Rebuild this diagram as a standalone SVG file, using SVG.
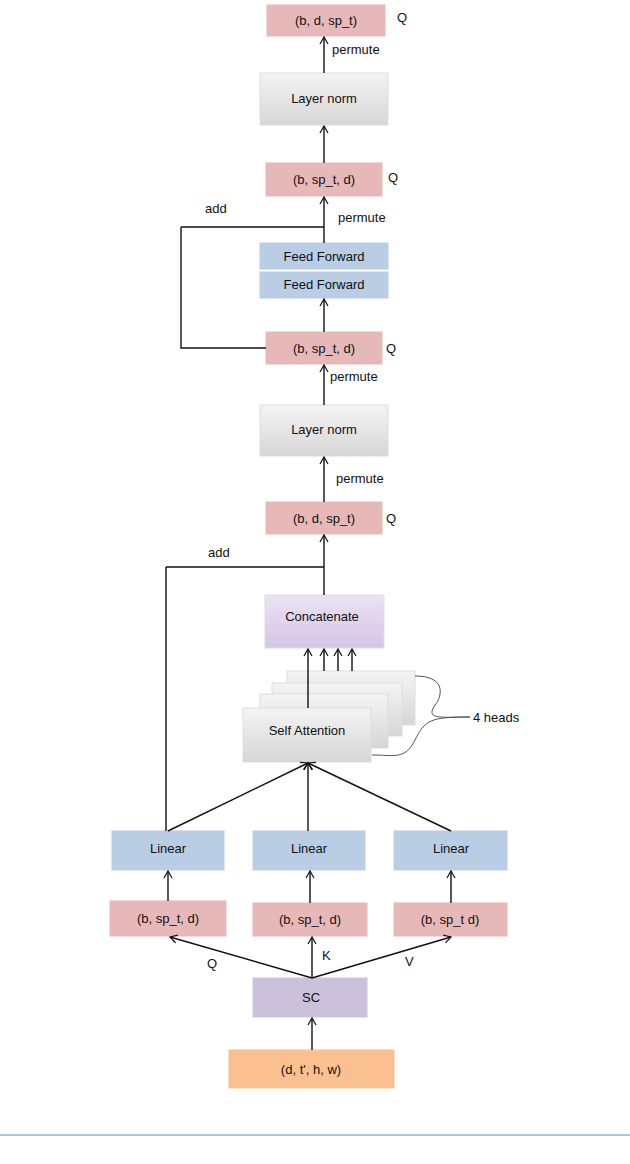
<svg xmlns="http://www.w3.org/2000/svg" width="630" height="1164" viewBox="0 0 630 1164">
<style>
text{font-family:"Liberation Sans",Arial,sans-serif;font-size:13px;fill:#111}
.c{text-anchor:middle}
.pink{fill:#e6b9b8;stroke:#e6b9b8}
.gray{fill:url(#g);stroke:#ddd}
.blue{fill:#b9cde5;stroke:#b9cde5}
.line{stroke:#111;stroke-width:1.4;fill:none}
</style>
<defs>
<linearGradient id="g" x1="0" y1="0" x2="0" y2="1"><stop offset="0" stop-color="#f4f4f4"/><stop offset="1" stop-color="#d6d6d6"/></linearGradient>
<linearGradient id="p" x1="0" y1="0" x2="0" y2="1"><stop offset="0" stop-color="#ebe3f4"/><stop offset="1" stop-color="#d5c4e8"/></linearGradient>
<marker id="a" markerWidth="10" markerHeight="10" refX="8" refY="5" orient="auto" markerUnits="userSpaceOnUse"><path d="M1,1 L8,5 L1,9" fill="none" stroke="#111" stroke-width="1.2"/></marker>
</defs>
<rect width="630" height="1164" fill="#fff"/>
<g id="n1"><rect class="pink" x="267" y="5" width="118" height="31"/><text class="c" x="326" y="25">(b, d, sp_t)</text></g>
<g id="n2"><rect class="gray" x="260" y="73" width="128" height="52"/><text class="c" x="324" y="103">Layer norm</text></g>
<g id="n3"><rect class="pink" x="266" y="163" width="116" height="33"/><text class="c" x="324" y="184">(b, sp_t, d)</text></g>
<g id="n4"><rect class="blue" x="260" y="243" width="128" height="26"/><text class="c" x="324" y="261">Feed Forward</text></g>
<g id="n5"><rect class="blue" x="260" y="272" width="128" height="26"/><text class="c" x="324" y="289">Feed Forward</text></g>
<g id="n6"><rect class="pink" x="266" y="332" width="116" height="32"/><text class="c" x="324" y="353">(b, sp_t, d)</text></g>
<g id="n7"><rect class="gray" x="260" y="405" width="128" height="51"/><text class="c" x="324" y="434">Layer norm</text></g>
<g id="n8"><rect class="pink" x="266" y="502" width="116" height="32"/><text class="c" x="324" y="523">(b, d, sp_t)</text></g>
<g id="n9"><rect fill="url(#p)" stroke="#ddd" x="265" y="595" width="119" height="53"/><text class="c" x="322" y="621">Concatenate</text></g>
<g id="n10">
<rect class="gray" x="287" y="671" width="128" height="54"/>
<rect class="gray" x="272" y="683" width="130" height="53"/>
<rect class="gray" x="260" y="694" width="128" height="54"/>
<rect class="gray" x="243" y="708" width="128" height="54"/>
<text class="c" x="307" y="735">Self Attention</text>
<path d="M415,676 C450,676 440,700 435,705 C425,720 440,717 470,717 M470,717 C430,717 425,720 415,740 C405,760 395,755 372,755" fill="none" stroke="#555" stroke-width="1"/>
<text x="473" y="722">4 heads</text>
</g>
<g id="n11"><rect class="blue" x="112" y="831" width="112" height="39"/><text class="c" x="168" y="853">Linear</text></g>
<g id="n12"><rect class="blue" x="253" y="831" width="112" height="39"/><text class="c" x="309" y="853">Linear</text></g>
<g id="n13"><rect class="blue" x="394" y="831" width="113" height="39"/><text class="c" x="451" y="853">Linear</text></g>
<g id="n14"><rect class="pink" x="110" y="901" width="116" height="35"/><text class="c" x="168" y="923">(b, sp_t,  d)</text></g>
<g id="n15"><rect class="pink" x="253" y="903" width="114" height="33"/><text class="c" x="310" y="924">(b, sp_t,  d)</text></g>
<g id="n16"><rect class="pink" x="394" y="903" width="113" height="33"/><text class="c" x="450" y="924">(b, sp_t  d)</text></g>
<g id="n17"><rect fill="#ccc1da" stroke="#ccc1da" x="253" y="978" width="114" height="39"/><text class="c" x="311" y="1002">SC</text></g>
<g id="n18"><rect fill="#fac090" stroke="#fac090" x="229" y="1050" width="165" height="38"/><text class="c" x="311" y="1074">(d, t',  h, w)</text></g>
<g id="edges">
<path class="line" marker-end="url(#a)" d="M324,73 V37"/>
<path class="line" marker-end="url(#a)" d="M324,163 V126"/>
<path class="line" marker-end="url(#a)" d="M324,243 V197"/>
<path class="line" marker-end="url(#a)" d="M324,332 V299"/>
<path class="line" marker-end="url(#a)" d="M324,405 V365"/>
<path class="line" marker-end="url(#a)" d="M324,502 V457"/>
<path class="line" marker-end="url(#a)" d="M324,595 V535"/>
<path class="line" d="M181,227 H324 M181,227 V348 H266"/>
<path class="line" d="M166,567 H324 M166,567 V831"/>
<path class="line" marker-end="url(#a)" d="M308,708 V649"/>
<path class="line" marker-end="url(#a)" d="M324,671 V649"/>
<path class="line" marker-end="url(#a)" d="M338,671 V649"/>
<path class="line" marker-end="url(#a)" d="M352,671 V649"/>
<path class="line" marker-end="url(#a)" d="M168,831 L308,763"/>
<path class="line" marker-end="url(#a)" d="M308,831 V763"/>
<path class="line" marker-end="url(#a)" d="M451,831 L308,763"/>
<path class="line" marker-end="url(#a)" d="M168,901 V871"/>
<path class="line" marker-end="url(#a)" d="M310,903 V871"/>
<path class="line" marker-end="url(#a)" d="M451,903 V871"/>
<path class="line" marker-end="url(#a)" d="M312,978 L170,937"/>
<path class="line" marker-end="url(#a)" d="M312,978 V937"/>
<path class="line" marker-end="url(#a)" d="M312,978 L451,937"/>
<path class="line" marker-end="url(#a)" d="M312,1050 V1018"/>
<text x="397" y="22">Q</text><text x="332" y="54">permute</text>
<text x="388" y="182">Q</text><text x="338" y="222">permute</text><text x="205" y="213">add</text>
<text x="386" y="353">Q</text><text x="330" y="381">permute</text>
<text x="336" y="483">permute</text><text x="386" y="523">Q</text><text x="208" y="557">add</text>
<text x="207" y="968">Q</text><text x="322" y="960">K</text><text x="405" y="966">V</text>
</g>
<line x1="0" y1="1135" x2="630" y2="1135" stroke="#95b3d7" stroke-width="1.5"/>
</svg>
